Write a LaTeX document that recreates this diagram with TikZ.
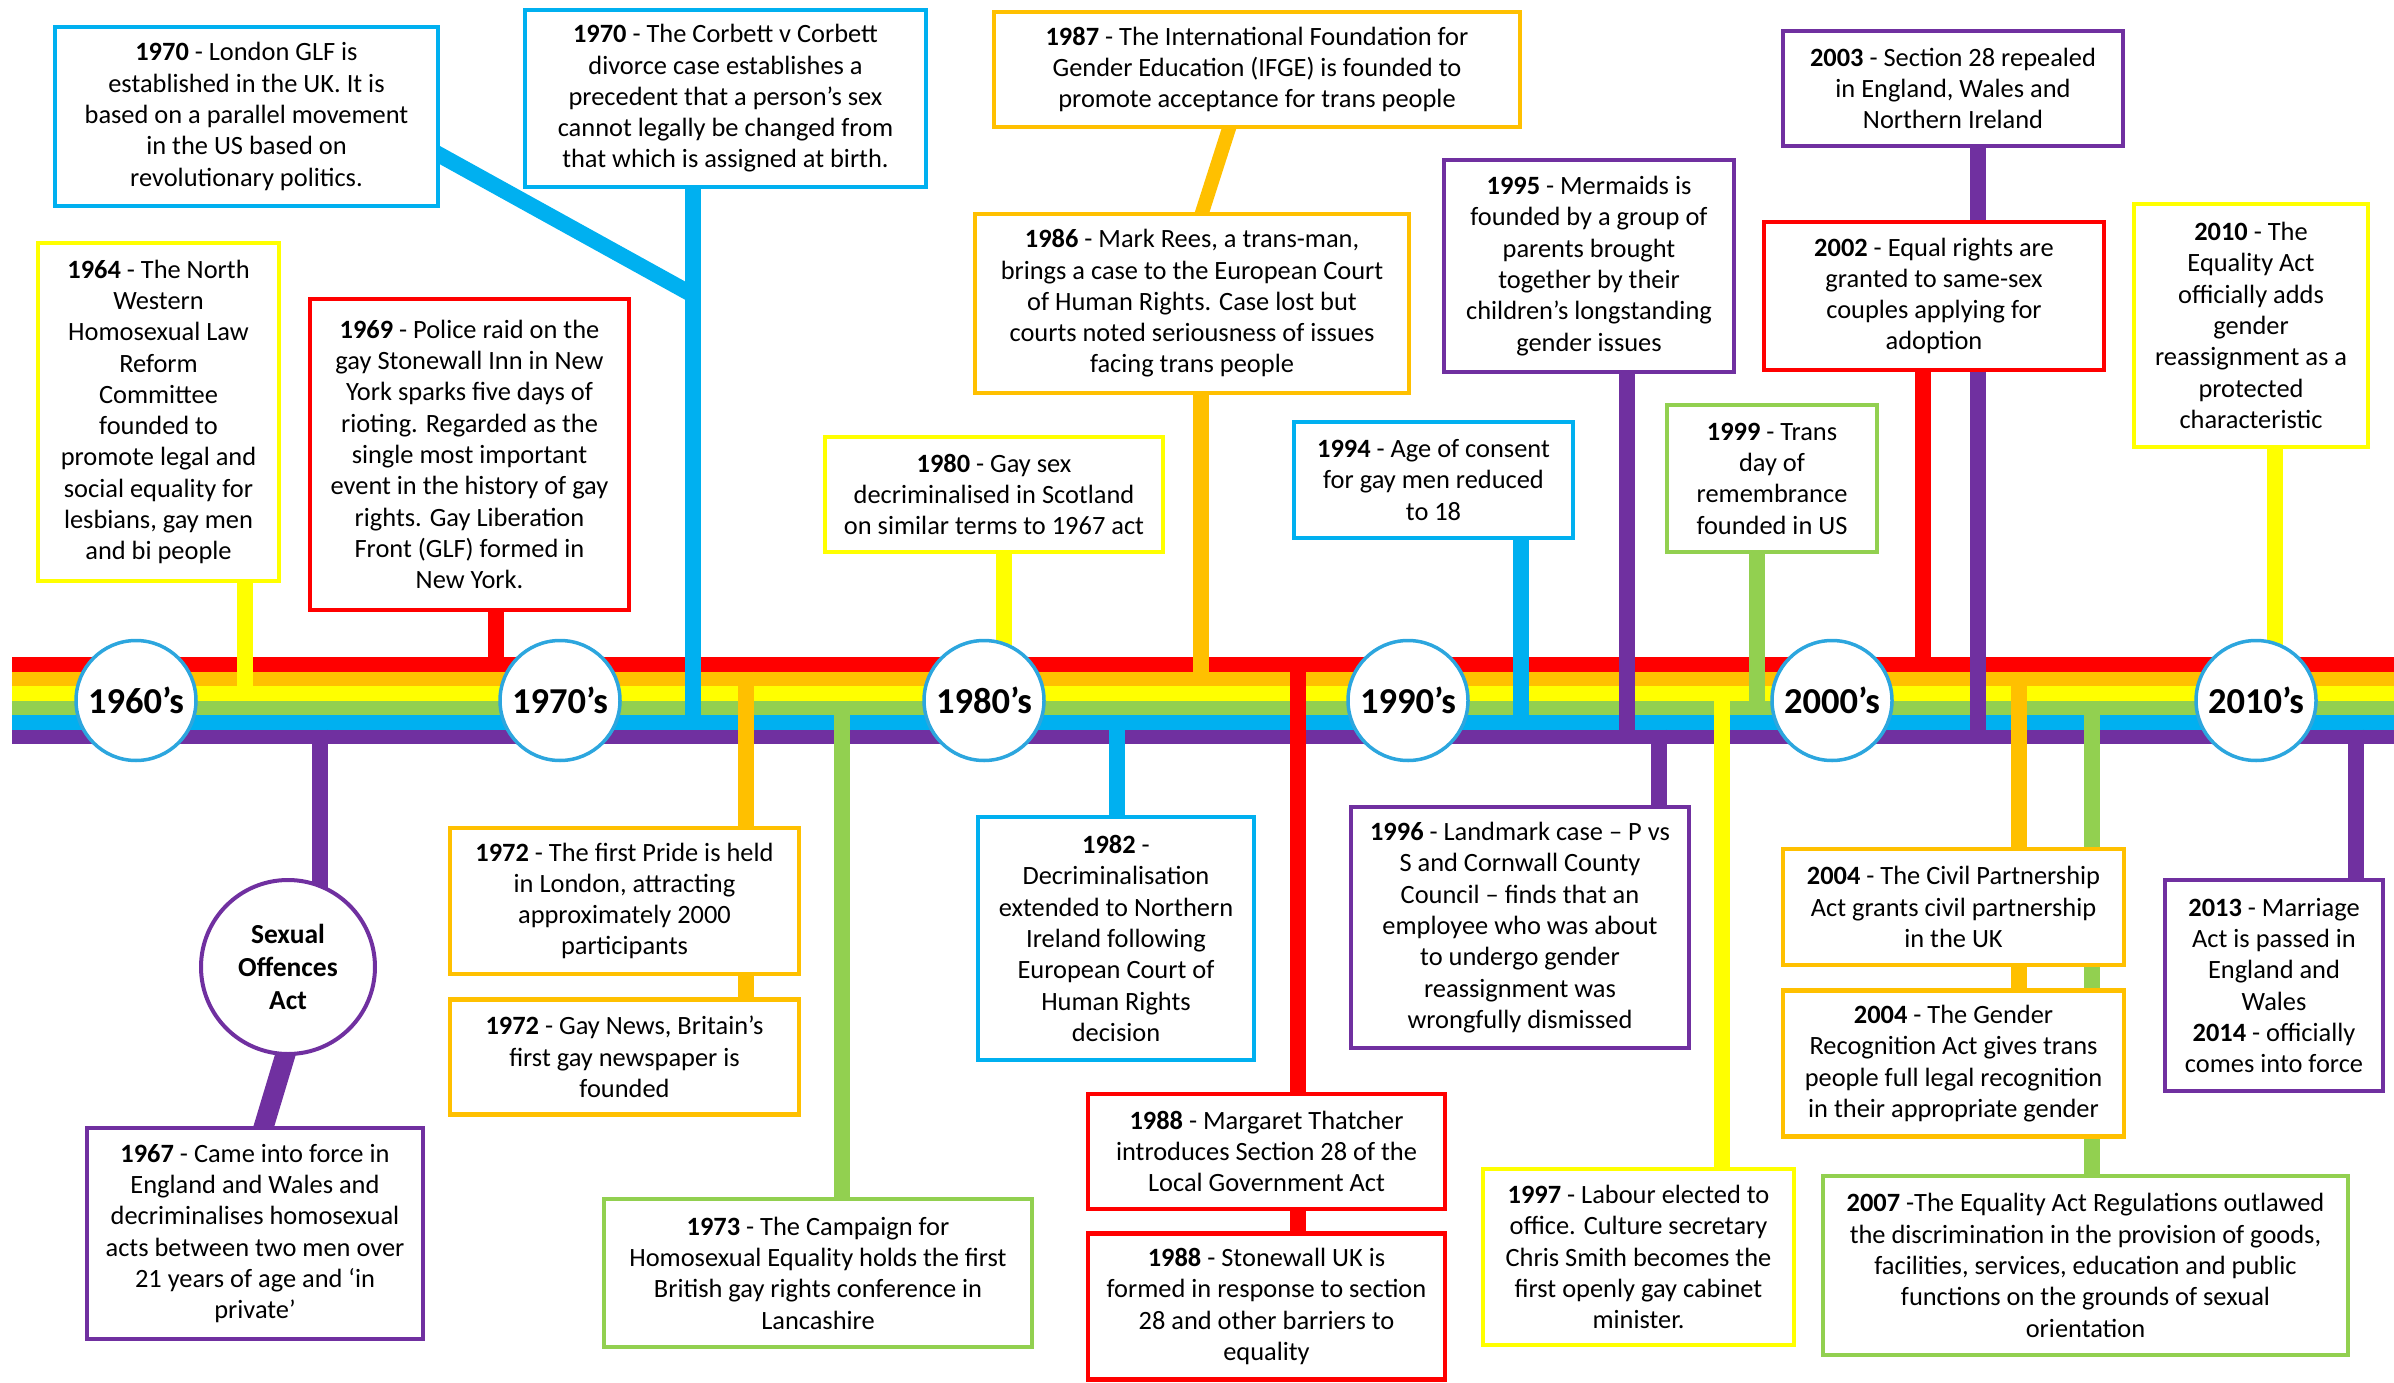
\documentclass[tikz,border=0pt]{standalone}
\usepackage{fontspec}
\setmainfont{Carlito}
\usetikzlibrary{positioning,backgrounds}

\definecolor{tlRed}{HTML}{FF0000}
\definecolor{tlOrange}{HTML}{FFC000}
\definecolor{tlYellow}{HTML}{FFFF00}
\definecolor{tlGreen}{HTML}{92D050}
\definecolor{tlBlue}{HTML}{00B0F0}
\definecolor{tlPurple}{HTML}{7030A0}
\definecolor{tlRing}{HTML}{2CA6DE}

\newcommand{\evtfont}{\fontsize{26.4}{31.3}\selectfont}
\newcommand{\decfont}{\fontsize{36.5}{40}\selectfont\bfseries}
\newcommand{\yr}[1]{\textbf{#1}}

\tikzset{
  evt/.style={draw=#1, line width=4.5pt, fill=white, align=center, font=\evtfont, inner sep=2pt},
  boxsize/.style 2 args={minimum width=#1pt, minimum height=#2pt},
  link/.style={draw=#1, line width=15.5pt},
  decade/.style={circle, draw=tlRing, line width=3.5pt, fill=white, minimum size=120pt, inner sep=0pt, font=\decfont},
}

\begin{document}
\begin{tikzpicture}[x=1pt, y=-1pt]
    \useasboundingbox (0,0) rectangle (2394,1383);
    \def\bandTop{657}
    \def\bandStep{14.5}

    % decades on the rainbow
    \foreach \dec [count=\i] in {1960,1970,1980,1990,2000,2010}
        \node[decade] (d\dec) at ({136+424*(\i-1)},700.5) {\dec{}’s};

    % events above the band
    \node[evt=tlBlue, boxsize={383}{179}] (glf) at (246.5,116.5)
        {\yr{1970} - London GLF is\\established  in the UK. It is\\based on a parallel movement\\in the US based on\\revolutionary politics.};
    \node[evt=tlBlue, boxsize={401}{177}] (corbett) at (725.5,98.5)
        {\yr{1970} - The Corbett v Corbett\\divorce case establishes a\\precedent that a person’s sex\\cannot legally be changed from\\that which is assigned at birth.};
    \node[evt=tlYellow, boxsize={241}{338}] (b1964) at (158.5,412)
        {\yr{1964} - The North\\Western\\Homosexual Law\\Reform\\Committee\\founded to\\promote legal and\\social equality for\\lesbians, gay men\\and bi people};
    \node[evt=tlRed, boxsize={319}{311}] (b1969) at (469.5,454.5)
        {\yr{1969} - Police raid on the\\gay Stonewall Inn in New\\York sparks five days of\\rioting. Regarded as the\\single most important\\event in the history of gay\\rights. Gay Liberation\\Front (GLF) formed in\\New York.};
    \node[evt=tlOrange, boxsize={526}{115}] (b1987) at (1257,69.5)
        {\yr{1987} - The International Foundation for\\Gender Education (IFGE) is founded to\\promote acceptance for trans people};
    \node[evt=tlOrange, boxsize={434}{179}] (b1986) at (1192,303.5)
        {\yr{1986} - Mark Rees, a trans-man,\\brings a case to the European Court\\of Human Rights. Case lost but\\courts noted seriousness of issues\\facing trans people};
    \node[evt=tlYellow, boxsize={338}{115}] (b1980) at (994,494.5)
        {\yr{1980} - Gay sex\\decriminalised in Scotland\\on similar terms to 1967 act};
    \node[evt=tlBlue, boxsize={279}{116}] (b1994) at (1433.5,480)
        {\yr{1994} - Age of consent\\for gay men reduced\\to 18};
    \node[evt=tlPurple, boxsize={290}{212}] (b1995) at (1589,266)
        {\yr{1995} - Mermaids is\\founded by a group of\\parents brought\\together by their\\children’s longstanding\\gender issues};
    \node[evt=tlGreen, boxsize={210}{147}] (b1999) at (1772,478.5)
        {\yr{1999} - Trans\\day of\\remembrance\\founded in US};
    \node[evt=tlPurple, boxsize={340}{115}] (b2003) at (1953,88.5)
        {\yr{2003} - Section 28 repealed\\in England, Wales and\\Northern Ireland};
    \node[evt=tlRed, boxsize={340}{148}] (b2002) at (1934,296)
        {\yr{2002} - Equal rights are\\granted to same-sex\\couples applying for\\adoption};
    \node[evt=tlYellow, boxsize={234}{243}] (b2010) at (2251,325.5)
        {\yr{2010} - The\\Equality Act\\officially adds\\gender\\reassignment as a\\protected\\characteristic};

    % events below the band
    \node[circle, draw=tlPurple, line width=4pt, fill=white, minimum size=174pt, inner sep=0pt,
          align=center, font=\fontsize{27.5}{33}\selectfont\bfseries] (soa) at (288,967) {Sexual\\Offences\\Act};
    \node[evt=tlPurple, boxsize={336}{211}] (b1967) at (255,1233.5)
        {\yr{1967} - Came into force in\\England and Wales and\\decriminalises homosexual\\acts between two men over\\21 years of age and ‘in\\private’};
    \node[evt=tlOrange, boxsize={349}{146}] (b1972a) at (624.5,901)
        {\yr{1972} - The first Pride is held\\in London, attracting\\approximately 2000\\participants};
    \node[evt=tlOrange, boxsize={349}{115}, below=21pt of b1972a] (b1972b)
        {\yr{1972} - Gay News, Britain’s\\first gay newspaper is\\founded};
    \node[evt=tlGreen, boxsize={428}{148}] (b1973) at (818,1273)
        {\yr{1973} - The Campaign for\\Homosexual Equality holds the first\\British gay rights conference in\\Lancashire};
    \node[evt=tlBlue, boxsize={276}{243}] (b1982) at (1116,938.5)
        {\yr{1982} -\\Decriminalisation\\extended to Northern\\Ireland following\\European Court of\\Human Rights\\decision};
    \node[evt=tlRed, boxsize={357}{115}] (b1988a) at (1266.5,1151.5)
        {\yr{1988} - Margaret Thatcher\\introduces Section 28 of the\\Local Government Act};
    \node[evt=tlRed, boxsize={357}{146}, below=20pt of b1988a] (b1988b)
        {\yr{1988} - Stonewall UK is\\formed in response to section\\28 and other barriers to\\equality};
    \node[evt=tlPurple, boxsize={338}{241}] (b1996) at (1520,927.5)
        {\yr{1996} - Landmark case – P vs\\S and Cornwall County\\Council – finds that an\\employee who was about\\to undergo gender\\reassignment was\\wrongfully dismissed};
    \node[evt=tlYellow, boxsize={311}{176}] (b1997) at (1638.5,1257)
        {\yr{1997} - Labour elected to\\office. Culture secretary\\Chris Smith becomes the\\first openly gay cabinet\\minister.};
    \node[evt=tlOrange, boxsize={341}{116}] (b2004a) at (1953.5,907)
        {\yr{2004} - The Civil Partnership\\Act  grants civil partnership\\in the UK};
    \node[evt=tlOrange, boxsize={341}{146}, below=21pt of b2004a] (b2004b)
        {\yr{2004} - The Gender\\Recognition Act gives trans\\people full legal recognition\\in their appropriate gender};
    \node[evt=tlGreen, boxsize={525}{179}] (b2007) at (2085.5,1265.5)
        {\yr{2007} -The Equality Act Regulations outlawed\\the discrimination in the provision of goods,\\facilities, services, education and public\\functions on the grounds of sexual\\orientation};
    \node[evt=tlPurple, boxsize={218}{211}] (b2013) at (2274,985.5)
        {\yr{2013} - Marriage\\Act is passed in\\England and\\Wales\\\yr{2014} - officially\\comes into force};

    % where the links meet their stripe
    \coordinate (k1964) at (245,700.5);
    \coordinate (k1969) at (496,671.5);
    \coordinate (k1970) at (693,729.5);
    \coordinate (glfJoin) at (693,295);
    \coordinate (k1980) at (1004,700.5);
    \coordinate (k1986) at (1201,686);
    \coordinate (k1994) at (1521,729.5);
    \coordinate (k1995) at (1627,744);
    \coordinate (k1999) at (1757,715);
    \coordinate (k2002) at (1923,671.5);
    \coordinate (k2003) at (1978,744);
    \coordinate (k2010) at (2275,700.5);
    \coordinate (k1967) at (320,729.5);
    \coordinate (k1972) at (746,671.5);
    \coordinate (k1973) at (842,700.5);
    \coordinate (k1982) at (1117,715);
    \coordinate (k1988) at (1298,657);
    \coordinate (k1996) at (1659,729.5);
    \coordinate (k1997) at (1722,686);
    \coordinate (k2004) at (2019,671.5);
    \coordinate (k2007) at (2092,700.5);
    \coordinate (k2013) at (2356,729.5);

    \begin{scope}[on background layer]
        % rainbow band
        \foreach \col [count=\i] in {tlRed,tlOrange,tlYellow,tlGreen,tlBlue,tlPurple}
            \fill[\col] (12,{\bandTop+\bandStep*(\i-1)}) rectangle (2394,{\bandTop+\bandStep*\i+0.4});

        % links from above
        \draw[link=tlYellow] (k1964 |- b1964.center) -- (k1964);
        \draw[link=tlRed] (k1969 |- b1969.center) -- (k1969);
        \draw[link=tlBlue] (k1970 |- corbett.center) -- (k1970);
        \draw[link=tlBlue, line width=16pt] ([xshift=-6pt,yshift=-35.5pt]glf.east) -- (glfJoin);
        \draw[link=tlOrange, line width=14pt] ([xshift=-27pt,yshift=4pt]b1987.south) -- ([xshift=9pt,yshift=-4pt]b1986.north);
        \draw[link=tlYellow] (k1980 |- b1980.center) -- (k1980);
        \draw[link=tlOrange] (k1986 |- b1986.center) -- (k1986);
        \draw[link=tlBlue] (k1994 |- b1994.center) -- (k1994);
        \draw[link=tlPurple] (k1995 |- b1995.center) -- (k1995);
        \draw[link=tlGreen] (k1999 |- b1999.center) -- (k1999);
        \draw[link=tlRed] (k2002 |- b2002.center) -- (k2002);
        \draw[link=tlPurple] (k2003 |- b2003.center) -- (k2003);
        \draw[link=tlYellow] (k2010 |- b2010.center) -- (k2010);

        % links from below
        \draw[link=tlPurple] (k1967) -- (k1967 |- soa.center);
        \draw[link=tlPurple, line width=20pt] ([yshift=10pt]soa.south) -- ([xshift=6pt,yshift=-10pt]b1967.north);
        \draw[link=tlOrange] (k1972) -- (k1972 |- b1972b.center);
        \draw[link=tlGreen] (k1973) -- (k1973 |- b1973.center);
        \draw[link=tlBlue] (k1982) -- (k1982 |- b1982.center);
        \draw[link=tlRed] (k1988) -- (k1988 |- b1988b.center);
        \draw[link=tlPurple] (k1996) -- (k1996 |- b1996.center);
        \draw[link=tlYellow] (k1997) -- (k1997 |- b1997.center);
        \draw[link=tlOrange] (k2004) -- (k2004 |- b2004b.center);
        \draw[link=tlGreen] (k2007) -- (k2007 |- b2007.center);
        \draw[link=tlPurple] (k2013) -- (k2013 |- b2013.center);
    \end{scope}
\end{tikzpicture}
\end{document}
